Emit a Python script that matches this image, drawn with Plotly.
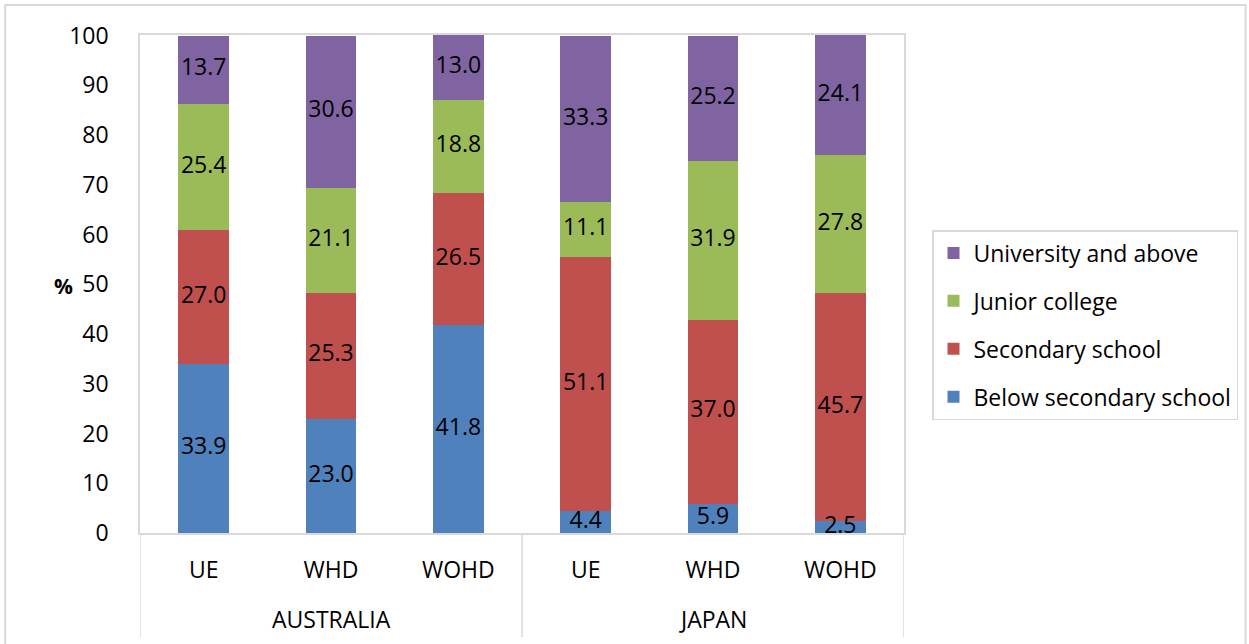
import plotly.graph_objects as go

# Education level distribution (%) by country and group
countries = ["AUSTRALIA", "JAPAN"]
groups = ["UE", "WHD", "WOHD", "UE", "WHD", "WOHD"]

below_secondary = [33.9, 23.0, 41.8, 4.4, 5.9, 2.5]
secondary = [27.0, 25.3, 26.5, 51.1, 37.0, 45.7]
junior_college = [25.4, 21.1, 18.8, 11.1, 31.9, 27.8]
university = [13.7, 30.6, 13.0, 33.3, 25.2, 24.1]

series = [
    ("Below secondary school", below_secondary, "#4F81BD"),
    ("Secondary school", secondary, "#C0504D"),
    ("Junior college", junior_college, "#9BBB59"),
    ("University and above", university, "#8064A2"),
]

FONT = "Open Sans, sans-serif"
FS = 23
W, H = 1249, 644
L, R, T, B = 140, 905, 35, 533
GRID = "#d9d9d9"

positions = list(range(len(groups)))

fig = go.Figure()
for i, (name, vals, color) in enumerate(series):
    fig.add_trace(go.Bar(
        x=positions,
        y=vals,
        name=name,
        marker=dict(color=color, line=dict(width=0)),
        textposition="none",
        legendgroup=name,
        legendrank=len(series) - i,
    ))

# value labels centred in each stacked segment (free to overflow the axes)
base = [0.0] * len(groups)
for name, vals, _ in series:
    mids = [b + v / 2 for b, v in zip(base, vals)]
    fig.add_trace(go.Scatter(
        x=positions, y=mids, mode="text",
        text=[f"{v:.1f}" for v in vals],
        textposition="middle center",
        textfont=dict(color="black", size=FS, family=FONT),
        showlegend=False, hoverinfo="skip", cliponaxis=False,
    ))
    base = [b + v for b, v in zip(base, vals)]


def px(x):
    return (x - L) / (R - L)


def py(y):
    return (B - y) / (B - T)


# outer chart frame
fig.add_shape(type="rect", xref="paper", yref="paper",
              x0=px(5), x1=px(1247), y0=py(5), y1=py(660),
              line=dict(color=GRID, width=2), fillcolor="rgba(0,0,0,0)",
              layer="below")

# country group dividers and labels under the category axis
n_per = len(groups) // len(countries)
for k in range(len(countries) + 1):
    xpos = k * n_per - 0.5
    fig.add_shape(type="line", xref="x", yref="paper",
                  x0=xpos, x1=xpos, y0=0, y1=py(637),
                  line=dict(color=GRID, width=1.5))
for k, c in enumerate(countries):
    fig.add_annotation(text=c, xref="x", yref="paper",
                       x=k * n_per + (n_per - 1) / 2, y=py(619),
                       yanchor="middle", showarrow=False,
                       font=dict(size=FS, family=FONT, color="black"))

fig.add_annotation(text="<b>%</b>", xref="paper", yref="paper",
                   x=px(52), y=py(286), yanchor="middle", showarrow=False,
                   font=dict(size=FS - 2, family=FONT, color="black"))

fig.update_layout(
    width=W, height=H,
    barmode="stack",
    bargap=0.6,
    paper_bgcolor="white",
    plot_bgcolor="white",
    margin=dict(l=L, r=W - R, t=T, b=H - B, pad=0),
    font=dict(family=FONT, size=FS, color="black"),
    legend=dict(
        traceorder="grouped",
        x=px(932), y=py(230), xanchor="left", yanchor="top",
        bordercolor=GRID, borderwidth=1.5,
        font=dict(size=FS, family=FONT, color="black"),
        itemwidth=30,
        tracegroupgap=15,
    ),
    showlegend=True,
)

fig.update_yaxes(
    range=[0, 100.1], tickvals=list(range(0, 101, 10)), showgrid=False,
    showline=True, linecolor=GRID, linewidth=1.5, mirror=True,
    ticks="", ticklabelstandoff=25, zeroline=False,
    tickfont=dict(size=FS, family=FONT, color="black"),
)
fig.update_xaxes(
    range=[-0.5, len(groups) - 0.5],
    tickvals=positions, ticktext=groups,
    showgrid=False, showline=True, linecolor=GRID, linewidth=1.5, mirror=True,
    ticks="", ticklabelstandoff=16, zeroline=False,
    tickfont=dict(size=FS, family=FONT, color="black"),
)

fig.write_html("out.html")
